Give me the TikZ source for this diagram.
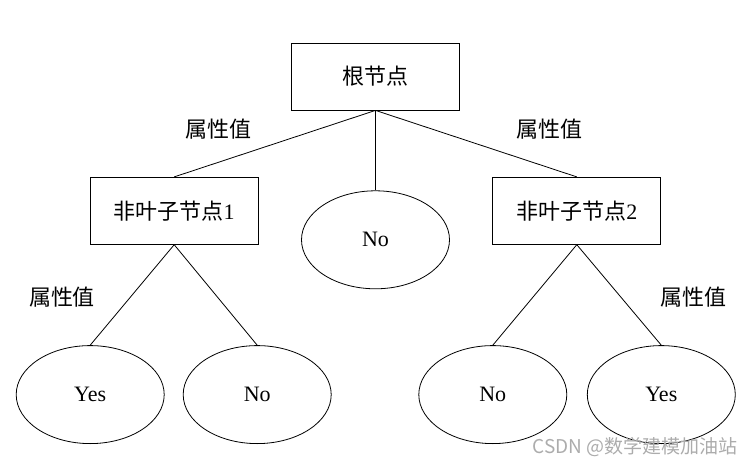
\documentclass[tikz,border=0pt]{standalone}
\usepackage{fontspec}
\setmainfont{Liberation Serif}
\newfontfamily\cjk{Noto Sans CJK SC}
\usetikzlibrary{positioning, shapes.geometric}

\begin{document}
\begin{tikzpicture}[
    x=1pt, y=-1pt,
    big/.style={font=\fontsize{22}{26}\selectfont},
    box/.style={big, draw, line width=0.8pt, inner sep=0pt,
                minimum width=168pt, minimum height=67pt},
    leaf/.style={big, draw, line width=0.8pt, ellipse, inner sep=0pt,
                 minimum width=148pt, minimum height=98pt},
    attr/.style={big, font=\fontsize{22}{26}\selectfont\cjk},
    link/.style={line width=0.8pt},
]
\useasboundingbox (0,0) rectangle (756,466);
% tree nodes
\node[box] (root) at (375.5,76.5) {\cjk 根节点};
\node[box, below left=66.5pt and 32.5pt of root] (n1) {{\cjk 非叶子节点}1};
\node[box, below right=66.5pt and 32.5pt of root] (n2) {{\cjk 非叶子节点}2};
\node[leaf, below=80pt of root] (mid) {No};
\node[leaf, below=100.5pt of n1, xshift=-84pt] (y1) {Yes};
\node[leaf, below=100.5pt of n1, xshift=83pt] (no1) {No};
\node[leaf, below=100.5pt of n2, xshift=-84pt] (no2) {No};
\node[leaf, below=100.5pt of n2, xshift=84.5pt] (y2) {Yes};
% branches
\draw[link] (root.south) -- (n1.north);
\draw[link] (root.south) -- (mid.north);
\draw[link] (root.south) -- (n2.north);
\draw[link] (n1.south) -- (y1.north);
\draw[link] (n1.south) -- (no1.north);
\draw[link] (n2.south) -- (no2.north);
\draw[link] (n2.south) -- (y2.north);
% branch labels
\node[attr] (a1) at (218,129) {属性值};
\node[attr] (a2) at (549,129) {属性值};
\node[attr] (a3) at (62,297) {属性值};
\node[attr] (a4) at (693,297) {属性值};
\node[font=\fontsize{19}{21}\selectfont\cjk, text=gray!65, anchor=east] (wm) at (741,447) {CSDN @数学建模加油站};
\end{tikzpicture}
\end{document}
